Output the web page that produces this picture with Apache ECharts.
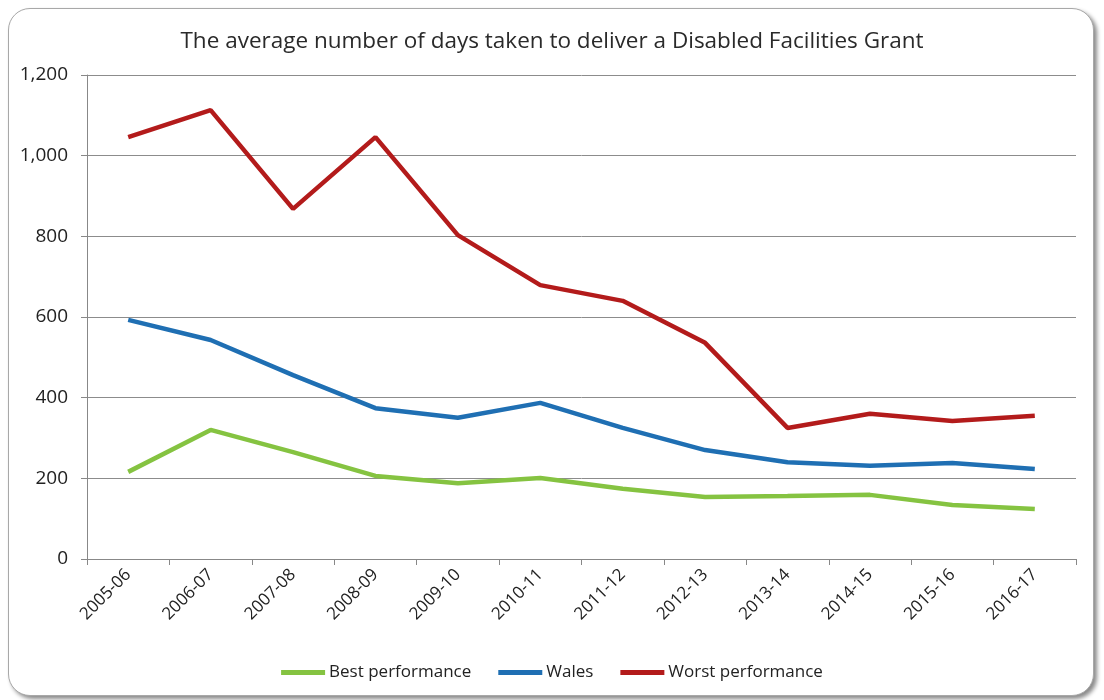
<!DOCTYPE html>
<html>
<head>
<meta charset="utf-8">
<script src="https://cdn.jsdelivr.net/npm/echarts@6/dist/echarts.min.js"></script>
<style>
	html, body { margin: 0; padding: 0; background: #fff; }
	#frame {
		position: absolute; left: 8px; top: 8px; width: 1084px; height: 686px;
		border: 1px solid #a8a8a8; border-radius: 22px;
		box-shadow: 3px 3px 4px #8a8a8a;
		background: #fff;
	}
	#chart { position: absolute; left: 0; top: 0; width: 1104px; height: 700px; }
</style>
</head>
<body>
<div id="frame"></div>
<div id="chart"></div>
<script>
// categories + series
var years = ['2005-06', '2006-07', '2007-08', '2008-09', '2009-10', '2010-11',
	'2011-12', '2012-13', '2013-14', '2014-15', '2015-16', '2016-17'];
var best = [216, 320, 265, 206, 188, 201, 174, 154, 156, 159, 134, 124];
var wales = [593, 543, 456, 374, 350, 387, 325, 270, 240, 231, 238, 223];
var worst = [1046, 1113, 868, 1046, 803, 679, 640, 536, 325, 360, 342, 355];

var fontFam = '"Open Sans", "Liberation Sans", sans-serif';

var myChart = echarts.init(document.getElementById('chart'));

function line(name, data, color) {
	return {
		name: name,
		type: 'line',
		data: data,
		symbol: 'none',
		lineStyle: { width: 4.5, color: color },
		itemStyle: { color: color }
	};
}

var option = {
	animation: false,
	textStyle: { fontFamily: fontFam },
	title: {
		text: 'The average number of days taken to deliver a Disabled Facilities Grant',
		left: 'center',
		top: 25,
		textStyle: { fontSize: 22.5, fontWeight: 'normal', color: '#2a2a2a', fontFamily: fontFam }
	},
	legend: {
		top: 659,
		left: 'center',
		itemWidth: 44,
		itemHeight: 5,
		itemGap: 27,
		icon: 'rect',
		textStyle: { fontSize: 17, color: '#222', fontFamily: fontFam, padding: [0, 0, 0, -1] },
		data: ['Best performance', 'Wales', 'Worst performance']
	},
	grid: { left: 87, right: 28, top: 75, bottom: 141 },
	xAxis: {
		type: 'category',
		data: years,
		boundaryGap: true,
		axisLine: { lineStyle: { color: '#888', width: 1 } },
		axisTick: { show: true, length: 6, lineStyle: { color: '#888' } },
		axisLabel: { rotate: 45, margin: 13, fontSize: 17, color: '#222', fontFamily: fontFam }
	},
	yAxis: {
		type: 'value',
		min: 0,
		max: 1200,
		interval: 200,
		axisLine: { show: true, lineStyle: { color: '#888', width: 1 } },
		axisTick: { show: true, length: 6, lineStyle: { color: '#888' } },
		splitLine: { lineStyle: { color: '#8c8c8c', width: 1 } },
		axisLabel: {
			margin: 19, fontSize: 19, color: '#222', fontFamily: fontFam,
			formatter: function(v) { return v.toLocaleString('en-US'); }
		}
	},
	series: [
		line('Best performance', best, '#85c341'),
		line('Wales', wales, '#1f6fb3'),
		line('Worst performance', worst, '#b31b1b')
	]
};

myChart.setOption(option);
</script>
</body>
</html>
